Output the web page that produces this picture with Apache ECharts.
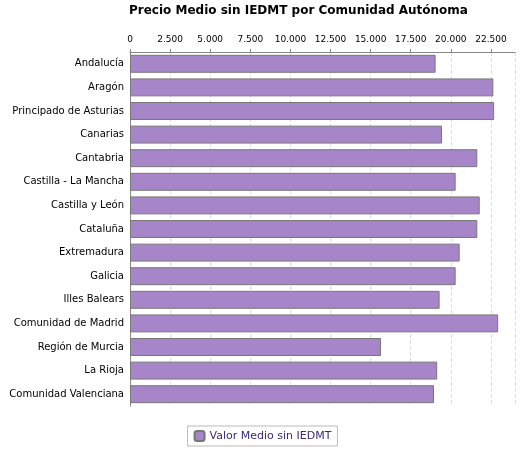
<!DOCTYPE html>
<html>
<head>
<meta charset="utf-8">
<script src="https://cdn.jsdelivr.net/npm/echarts@6/dist/echarts.min.js"></script>
<style>html,body{margin:0;padding:0;background:#fff}#chart{width:525px;height:450px}</style>
</head>
<body>
<div id="chart"></div>
<script>
var comunidades = ['Andalucía', 'Aragón', 'Principado de Asturias', 'Canarias', 'Cantabria',
    'Castilla - La Mancha', 'Castilla y León', 'Cataluña', 'Extremadura', 'Galicia',
    'Illes Balears', 'Comunidad de Madrid', 'Región de Murcia', 'La Rioja', 'Comunidad Valenciana'];
var precioMedio = [19050, 22650, 22700, 19450, 21650, 20300, 21800, 21650, 20550, 20300,
    19300, 22950, 15650, 19150, 18950];

var chart = echarts.init(document.getElementById('chart'));
chart.setOption({
    animation: false,
    title: {
        text: 'Precio Medio sin IEDMT por Comunidad Autónoma',
        left: 124, top: 0,
        textStyle: {fontFamily: 'DejaVu Sans', fontSize: 12, fontWeight: 'bold', color: '#000'}
    },
    legend: {
        bottom: 4, left: 'center',
        itemWidth: 10, itemHeight: 10,
        padding: [4, 6],
        borderColor: '#bbb', borderWidth: 1,
        textStyle: {fontFamily: 'DejaVu Sans', fontSize: 11, color: '#3a2a7a'}
    },
    grid: {left: 130, right: 10, top: 52, bottom: 44},
    xAxis: {
        type: 'value', position: 'top', min: 0, max: 24000, interval: 2500,
        axisLine: {show: true, lineStyle: {color: '#888'}},
        axisTick: {show: true, length: 3, lineStyle: {color: '#888'}},
        axisLabel: {
            fontFamily: 'DejaVu Sans', fontSize: 9, color: '#000', showMaxLabel: false,
            formatter: function (v) { return v >= 1000 ? Math.floor(v / 1000) + '.' + String(v % 1000).padStart(3, '0') : String(v); }
        },
        splitLine: {show: true, lineStyle: {color: '#ddd', type: 'dashed'}}
    },
    yAxis: {
        type: 'category', data: comunidades, inverse: true,
        axisLine: {show: true, lineStyle: {color: '#888'}},
        axisTick: {show: false},
        axisLabel: {fontFamily: 'DejaVu Sans', fontSize: 10, color: '#000', margin: 6}
    },
    series: [{
        name: 'Valor Medio sin IEDMT',
        type: 'bar',
        data: precioMedio,
        barCategoryGap: '24%',
        itemStyle: {color: '#a686c8', borderColor: '#777', borderWidth: 1}
    }]
});
</script>
</body>
</html>
